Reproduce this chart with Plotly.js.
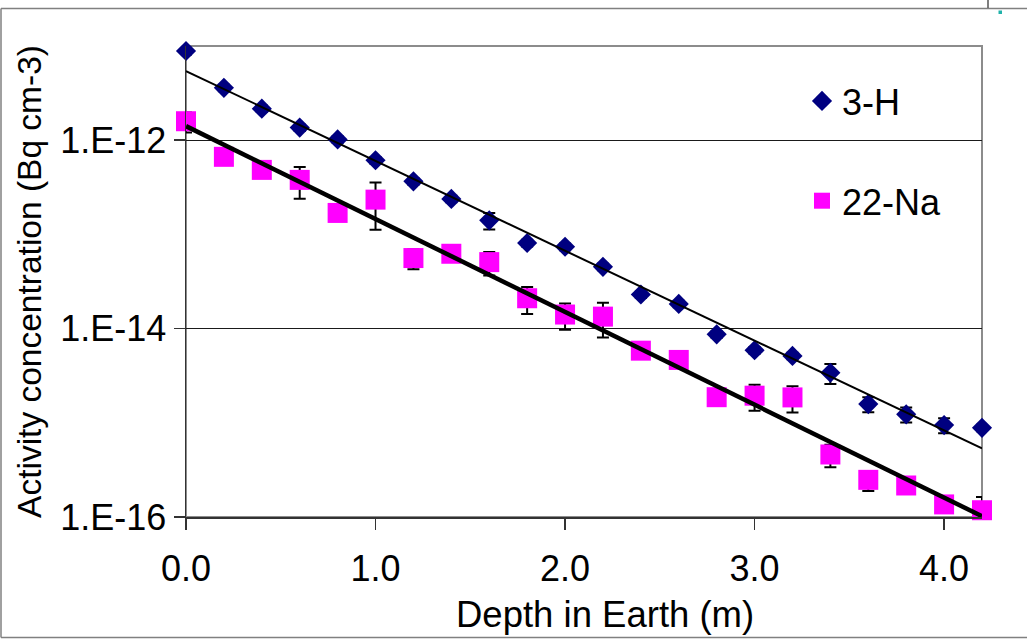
<!DOCTYPE html>
<html><head><meta charset="utf-8">
<script src="https://cdn.plot.ly/plotly-3.0.1.min.js"></script>
<style>html,body{margin:0;padding:0;background:#fff;overflow:hidden;} #chart{width:1027px;height:639px;}</style>
</head><body><div id="chart"></div>
<script>
// ---- data ----
const depth = [0.0,0.2,0.4,0.6,0.8,1.0,1.2,1.4,1.6,1.8,2.0,2.2,2.4,2.6,2.8,3.0,3.2,3.4,3.6,3.8,4.0,4.2];
const h3Activity = [8.85e-12,3.60e-12,2.16e-12,1.36e-12,1.02e-12,6.13e-13,3.66e-13,2.38e-13,1.41e-13,8.1e-14,7.4e-14,4.53e-14,2.30e-14,1.83e-14,8.7e-15,5.89e-15,5.13e-15,3.40e-15,1.58e-15,1.23e-15,9.45e-16,8.85e-16];
const na22Activity = [1.59e-12,6.66e-13,4.84e-13,3.79e-13,1.69e-13,2.34e-13,5.61e-14,6.23e-14,5.08e-14,2.10e-14,1.41e-14,1.34e-14,5.83e-15,4.65e-15,1.87e-15,1.94e-15,1.86e-15,4.61e-16,2.48e-16,2.16e-16,1.36e-16,1.18e-16];
// error bars, percent of value
const h3ErrPct = [8,8,8,8,8,8,8,8,20,8,8,8,8,8,8,8,8,24,18,18,18,8];
const na22ErrUpPct = [24,12,12,37,12,52,24,12,28,32,31,40,12,12,12,31,31,27,24,12,12,38];
const na22ErrDownPct = [24,12,12,37,12,52,24,12,28,32,31,40,12,12,12,31,31,27,24,12,12,0];
// exponential trend lines (value at start and end depth)
const trendDepth = [0.0, 4.2];
const h3Trend = [5.42e-12, 5.35e-16];
const na22Trend = [1.41e-12, 1.02e-16];
// axis ticks and titles
const xTickVals = [0,1,2,3,4];
const xTickText = ['0.0','1.0','2.0','3.0','4.0'];
const yTickVals = [1e-16,1e-14,1e-12];
const yTickText = ['1.E-16','1.E-14','1.E-12'];
const seriesNames = ['3-H','22-Na'];
const xTitle = 'Depth in Earth (m)';
const yTitle = 'Activity concentration (Bq cm-3)';

// ---- layout geometry ----
const W = 1027, H = 639, ML = 186, MR = 45, MT = 46, MB = 122;
const PW = W - ML - MR, PH = H - MT - MB;
const fx = px => (px - ML) / PW;
const fy = py => (H - MB - py) / PH;
const FONT = 'Liberation Sans, Arial, Helvetica, sans-serif';

const pctArr = (vals, pct) => vals.map((v, i) => v * pct[i] / 100);

const traces = [
  {
    x: depth, y: h3Activity, name: seriesNames[0], type: 'scatter', mode: 'markers',
    legendgroup: 'h3', cliponaxis: false,
    marker: {symbol: 'diamond', size: 15.5, color: '#000080', line: {width: 0}},
    error_y: {type: 'data', symmetric: true, array: pctArr(h3Activity, h3ErrPct), color: '#000', thickness: 2, width: 6}
  },
  {
    x: depth, y: na22Activity, name: seriesNames[1], type: 'scatter', mode: 'markers',
    legendgroup: 'na', cliponaxis: false,
    marker: {symbol: 'square', size: 20, color: '#FF00FF', line: {width: 0}},
    error_y: {type: 'data', symmetric: false, array: pctArr(na22Activity, na22ErrUpPct), arrayminus: pctArr(na22Activity, na22ErrDownPct), color: '#000', thickness: 2, width: 6}
  },
  {
    x: trendDepth, y: h3Trend, type: 'scatter', mode: 'lines', showlegend: false, legendgroup: 'h3',
    hoverinfo: 'skip', line: {color: '#000', width: 2}
  },
  {
    x: trendDepth, y: na22Trend, type: 'scatter', mode: 'lines', showlegend: false, legendgroup: 'na',
    hoverinfo: 'skip', line: {color: '#000', width: 4.5}
  }
];

const layout = {
  width: W, height: H,
  margin: {l: ML, r: MR, t: MT, b: MB, pad: 0},
  paper_bgcolor: '#fff', plot_bgcolor: '#fff',
  font: {family: FONT, color: '#000', size: 36},
  showlegend: true,
  legend: {
    x: fx(802), y: fy(71), xanchor: 'left', yanchor: 'top',
    bgcolor: 'rgba(0,0,0,0)', borderwidth: 0,
    font: {family: FONT, size: 36, color: '#000'},
    tracegroupgap: 50, itemsizing: 'trace'
  },
  xaxis: {
    range: [0, 4.2], tickvals: xTickVals, ticktext: xTickText,
    ticks: 'outside', ticklen: 11, tickwidth: 1.5, tickcolor: '#333',
    ticklabelstandoff: 8,
    showgrid: false, zeroline: false, showline: true, linecolor: '#333', linewidth: 1.5,
    tickfont: {family: FONT, size: 36, color: '#000'}
  },
  yaxis: {
    type: 'log', range: [-16, -11], tickvals: yTickVals, ticktext: yTickText,
    ticks: 'outside', ticklen: 11, tickwidth: 1.5, tickcolor: '#333',
    showgrid: true, gridcolor: '#1a1a1a', gridwidth: 1,
    zeroline: false, showline: true, linecolor: '#333', linewidth: 1.5,
    tickfont: {family: FONT, size: 36, color: '#000'},
    title: {text: yTitle, font: {family: FONT, size: 33.5, color: '#000'}, standoff: 8}
  },
  annotations: [
    {text: xTitle, xref: 'paper', yref: 'paper', x: fx(605), y: fy(614), xanchor: 'center', yanchor: 'middle',
     showarrow: false, font: {family: FONT, size: 36.5, color: '#000'}}
  ],
  shapes: [
    // plot area border (top/right grey)
    {type: 'rect', xref: 'paper', yref: 'paper', x0: 0, x1: 1, y0: 0, y1: 1, layer: 'below',
     line: {color: '#8c8c8c', width: 2}},
    // outer chart frame
    {type: 'line', xref: 'paper', yref: 'paper', x0: fx(1), x1: fx(1), y0: fy(8.5), y1: fy(637.5), line: {color: '#808080', width: 1.5}},
    {type: 'line', xref: 'paper', yref: 'paper', x0: fx(1), x1: fx(1030), y0: fy(8.5), y1: fy(8.5), line: {color: '#808080', width: 1.5}},
    {type: 'line', xref: 'paper', yref: 'paper', x0: fx(1), x1: fx(1030), y0: fy(637.5), y1: fy(637.5), line: {color: '#808080', width: 1.5}},
    // small artefacts at top right
    {type: 'line', xref: 'paper', yref: 'paper', x0: fx(988), x1: fx(988), y0: fy(0), y1: fy(8), line: {color: '#555', width: 1.5}},
    {type: 'rect', xref: 'paper', yref: 'paper', x0: fx(998.5), x1: fx(1002), y0: fy(14), y1: fy(10.5), line: {width: 0}, fillcolor: '#20b2aa'}
  ]
};

Plotly.newPlot('chart', traces, layout, {staticPlot: true, displayModeBar: false});
</script></body></html>
